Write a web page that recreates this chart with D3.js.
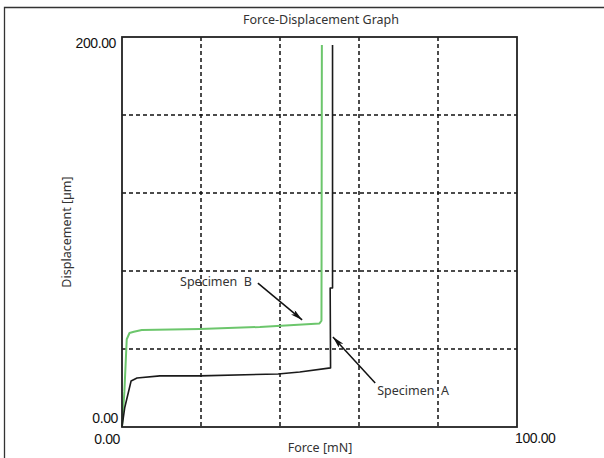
<!DOCTYPE html>
<html>
<head>
<meta charset="utf-8">
<script src="https://cdn.jsdelivr.net/npm/d3@7"></script>
<style>
  body { margin: 0; background: #fff; }
  .lbl { font-family: "Noto Sans", sans-serif; font-size: 12.5px; fill: #333; }
  .tick-lbl { font-family: "Liberation Sans", Arial, sans-serif; font-size: 14px; fill: #111; letter-spacing: -0.4px; }
</style>
</head>
<body>
<div id="chart"></div>
<script>
// Specimen A (black)
var forceA = [0, 0.7, 2.3, 3.8, 9.6, 19.7, 39.5, 45.0, 52.8, 52.7, 53.3, 53.3];
var dispA  = [0, 10, 23.6, 25.1, 26.2, 26.2, 27.2, 28.2, 30.3, 71.3, 71.3, 195.9];
// Specimen B (green)
var forceB = [0, 0.6, 1.2, 1.9, 3.0, 5.0, 19.7, 34.9, 50.0, 50.5, 50.6];
var dispB  = [0, 18, 45, 48.2, 48.8, 49.7, 50.3, 51.3, 53.1, 54.5, 195.9];

var xTickLabels = ["0.00", "100.00"];
var yTickLabels = ["0.00", "200.00"];
var gridX = [20, 40, 60, 80];
var gridY = [40, 80, 120, 160];

var annNames = ["Specimen  B", "Specimen  A"];
var annText = [[32.9, 72.3], [64.6, 16.4]];
var annFrom = [[34.4, 73.8], [64.1, 22.6]];
var annTo   = [[45.6, 54.9], [53.4, 46.2]];

var W = 604, H = 458;
var margin = { top: 37, right: 87, bottom: 31, left: 122 },
    width = W - margin.left - margin.right,
    height = H - margin.top - margin.bottom;

var svgRoot = d3.select("#chart").append("svg")
    .attr("width", W)
    .attr("height", H);

// outer frame (top + left visible)
svgRoot.append("path")
    .attr("d", "M4.5," + H + "V7.5H" + W)
    .attr("fill", "none")
    .attr("stroke", "#333")
    .attr("stroke-width", 1.3);

svgRoot.append("defs").append("marker")
    .attr("id", "arrow")
    .attr("viewBox", "0 0 12 6")
    .attr("refX", 12).attr("refY", 3)
    .attr("markerWidth", 12).attr("markerHeight", 6)
    .attr("markerUnits", "userSpaceOnUse")
    .attr("orient", "auto")
    .append("path")
    .attr("d", "M0,0 L12,3 L0,6 L3,3 Z")
    .attr("fill", "#111");

var svg = svgRoot.append("g")
    .attr("transform", "translate(" + margin.left + "," + margin.top + ")");

var x = d3.scaleLinear().domain([0, 100]).range([0, width]);
var y = d3.scaleLinear().domain([0, 200]).range([height, 0]);

// dashed grid
svg.selectAll(".gx").data(gridX).enter().append("line")
    .attr("x1", d => x(d)).attr("x2", d => x(d))
    .attr("y1", 0).attr("y2", height)
    .attr("stroke", "#111").attr("stroke-width", 1.5)
    .attr("stroke-dasharray", "4,3");
svg.selectAll(".gy").data(gridY).enter().append("line")
    .attr("y1", d => y(d)).attr("y2", d => y(d))
    .attr("x1", 0).attr("x2", width)
    .attr("stroke", "#111").attr("stroke-width", 1.5)
    .attr("stroke-dasharray", "4,3");

// curves
var line = d3.line()
    .x(d => x(d[0]))
    .y(d => y(d[1]));

svg.append("path")
    .datum(d3.zip(forceB, dispB))
    .attr("fill", "none")
    .attr("stroke", "#6cc66c")
    .attr("stroke-width", 2)
    .attr("stroke-linejoin", "round")
    .attr("d", line);

svg.append("path")
    .datum(d3.zip(forceA, dispA))
    .attr("fill", "none")
    .attr("stroke", "#1a1a1a")
    .attr("stroke-width", 1.6)
    .attr("stroke-linejoin", "round")
    .attr("d", line);

// plot border
svg.append("rect")
    .attr("x", 0).attr("y", 0)
    .attr("width", width).attr("height", height)
    .attr("fill", "none")
    .attr("stroke", "#222")
    .attr("stroke-width", 1.8);

// tick labels
svg.append("text").attr("class", "tick-lbl")
    .attr("x", x(0) - 4).attr("y", y(0) - 4)
    .attr("text-anchor", "end").text(yTickLabels[0]);
svg.append("text").attr("class", "tick-lbl")
    .attr("x", x(0) - 6).attr("y", y(200) + 11)
    .attr("text-anchor", "end").text(yTickLabels[1]);
svg.append("text").attr("class", "tick-lbl")
    .attr("x", x(0) - 2).attr("y", height + 17)
    .attr("text-anchor", "end").text(xTickLabels[0]);
svg.append("text").attr("class", "tick-lbl")
    .attr("x", x(100) - 2).attr("y", height + 16)
    .attr("text-anchor", "start").text(xTickLabels[1]);

// titles
svgRoot.append("text").attr("class", "lbl")
    .attr("x", 321).attr("y", 24)
    .attr("text-anchor", "middle")
    .text("Force-Displacement Graph");
svgRoot.append("text").attr("class", "lbl")
    .attr("x", 320).attr("y", 452)
    .attr("text-anchor", "middle")
    .text("Force [mN]");
svgRoot.append("text").attr("class", "lbl")
    .attr("transform", "translate(71,232) rotate(-90)")
    .attr("text-anchor", "middle")
    .text("Displacement [µm]");

// annotations
annNames.forEach(function (name, i) {
    svg.append("line")
        .attr("x1", x(annFrom[i][0])).attr("y1", y(annFrom[i][1]))
        .attr("x2", x(annTo[i][0])).attr("y2", y(annTo[i][1]))
        .attr("stroke", "#111").attr("stroke-width", 1.5)
        .attr("marker-end", "url(#arrow)");
    svg.append("text").attr("class", "lbl")
        .attr("x", x(annText[i][0])).attr("y", y(annText[i][1]))
        .attr("text-anchor", i === 0 ? "end" : "start")
        .style("white-space", "pre")
        .attr("xml:space", "preserve")
        .text(name);
});
</script>
</body>
</html>
